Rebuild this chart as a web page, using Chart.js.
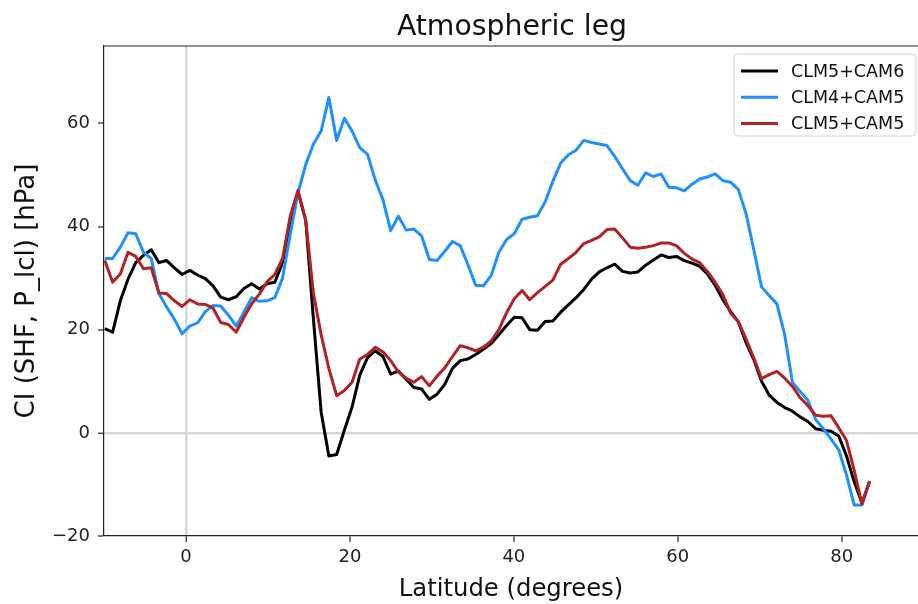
<!DOCTYPE html>
<html>
<head>
<meta charset="utf-8">
<script src="https://cdn.jsdelivr.net/npm/chart.js@4.4.0/dist/chart.umd.min.js"></script>
<style>
  html, body { margin: 0; padding: 0; background: #fff; }
</style>
</head>
<body>
<canvas id="atmLeg" width="918" height="604"></canvas>
<script>
// model grid latitudes (degrees)
const lats = [
  -9.9, -8.95, -8.01, -7.07, -6.13, -5.18, -4.24, -3.3, -2.36, -1.41,
  -0.47, 0.47, 1.41, 2.36, 3.3, 4.24, 5.18, 6.13, 7.07, 8.01,
  8.95, 9.9, 10.84, 11.78, 12.72, 13.66, 14.61, 15.55, 16.49, 17.43,
  18.38, 19.32, 20.26, 21.2, 22.15, 23.09, 24.03, 24.97, 25.92, 26.86,
  27.8, 28.74, 29.69, 30.63, 31.57, 32.51, 33.46, 34.4, 35.34, 36.28,
  37.23, 38.17, 39.11, 40.05, 41.0, 41.94, 42.88, 43.82, 44.76, 45.71,
  46.65, 47.59, 48.53, 49.48, 50.42, 51.36, 52.3, 53.25, 54.19, 55.13,
  56.07, 57.02, 57.96, 58.9, 59.84, 60.79, 61.73, 62.67, 63.61, 64.55,
  65.5, 66.44, 67.38, 68.32, 69.27, 70.21, 71.15, 72.09, 73.04, 73.98,
  74.92, 75.86, 76.81, 77.75, 78.69, 79.63, 80.58, 81.52, 82.46, 83.4
];

const clm5cam6 = [
  20.2, 19.5, 25.6, 29.8, 33, 34.4, 35.5, 33, 33.4, 32,
  30.7, 31.5, 30.6, 29.9, 28.5, 26.3, 25.8, 26.4, 28, 28.9,
  27.9, 28.9, 29.2, 33, 41, 46.7, 41.2, 22, 4, -4.5,
  -4.2, 0.5, 5, 11.2, 14.6, 15.9, 14.8, 11.4, 12, 10.4,
  8.8, 8.5, 6.5, 7.5, 9.4, 12.5, 14, 14.3, 15.2, 16.2,
  17.3, 19, 20.8, 22.4, 22.3, 20, 19.9, 21.6, 21.7, 23.4,
  24.8, 26.2, 27.8, 29.8, 31.2, 32, 32.7, 31.3, 31, 31.2,
  32.5, 33.5, 34.5, 34, 34.2, 33.4, 32.9, 32.3, 30.8, 28.6,
  25.8, 23.5, 21.5, 17.5, 14.2, 10, 7.3, 5.9, 4.9, 4.2,
  3.1, 2.2, 0.8, 0.5, 0.3, -0.6, -4.5, -9.5, -13.6, -9.4
];

const clm4cam5 = [
  33.8, 33.8, 36, 38.8, 38.6, 35, 33.8, 27, 24.4, 22,
  19.2, 20.7, 21.3, 23.5, 24.7, 24.6, 22.8, 20.7, 23.4, 26.2,
  25.5, 25.6, 26.2, 30, 38.5, 46.5, 52, 56, 58.5, 65,
  56.7, 61, 58.5, 55.3, 54, 49, 45.2, 39.2, 42, 39.3,
  39.5, 38.2, 33.6, 33.4, 35.2, 37.1, 36.3, 32.6, 28.6, 28.5,
  30.5, 35, 37.5, 38.6, 41.4, 41.8, 42.1, 44.8, 48.8, 52.3,
  53.9, 54.8, 56.7, 56.3, 56, 55.7, 53.6, 51.2, 48.9, 48,
  50.4, 49.7, 50.2, 47.6, 47.5, 46.9, 48.2, 49.2, 49.6, 50.2,
  48.9, 48.6, 47.2, 42.5, 35.5, 28.3, 26.6, 25, 19, 9.8,
  8, 6.3, 2.6, 0.8, -1.2, -3.3, -8.2, -14, -14, -9.4
];

const clm5cam5 = [
  33.4, 29.2, 30.8, 35, 34.2, 31.8, 32, 27.1, 27, 25.6,
  24.5, 25.8, 25, 24.9, 24.2, 21.4, 21, 19.5, 22.4, 25,
  26.9, 29.3, 30.7, 33.8, 42, 47, 41.2, 27, 19, 12.5,
  7.2, 8.2, 9.8, 14.3, 15.2, 16.6, 15.7, 14, 11.8, 10.6,
  9.8, 10.9, 9.1, 11, 12.6, 14.8, 16.9, 16.5, 15.9, 16.6,
  17.8, 20, 23.3, 26, 27.6, 25.8, 27.2, 28.4, 29.6, 32.7,
  33.8, 35, 36.7, 37.3, 38, 39.4, 39.5, 37.8, 36, 35.8,
  36, 36.3, 36.8, 36.8, 36.3, 34.8, 33.7, 33, 31.3, 29.2,
  26.8, 23.2, 21.6, 18.2, 14.5, 10.5, 11.3, 11.9, 10.6, 9,
  6.8, 5.3, 3.4, 3.2, 3.3, 1, -1.5, -7.3, -13.8, -9.4
];

const seriesNames = ["CLM5+CAM6", "CLM4+CAM5", "CLM5+CAM5"];
const seriesColors = ["#000000", "#1e90ff", "#b22222"];
const xTicks = [0, 20, 40, 60, 80];
const yTicks = [-20, 0, 20, 40, 60];

const FAMILY = "'DejaVu Sans', sans-serif";
const fmt = v => (v < 0 ? "\u2212" + Math.abs(v) : String(v));

function toPoints(vals) {
  return lats.map((lat, i) => ({ x: lat, y: vals[i] }));
}

// title, top spine and a matplotlib-style legend box
const extras = {
  id: "extras",
  afterDraw(chart) {
    const { ctx, chartArea: a } = chart;
    ctx.save();
    ctx.strokeStyle = "#222";
    ctx.lineWidth = 1.2;
    ctx.beginPath();
    ctx.moveTo(a.left, a.top);
    ctx.lineTo(a.right, a.top);
    ctx.stroke();

    ctx.fillStyle = "#111";
    ctx.font = "28.3px " + FAMILY;
    ctx.textAlign = "center";
    ctx.textBaseline = "alphabetic";
    ctx.fillText("Atmospheric leg", 512, 35);

    // legend
    const bx = 734, by = 54, bw = 182, bh = 82;
    ctx.beginPath();
    ctx.roundRect(bx, by, bw, bh, 4);
    ctx.fillStyle = "rgba(255,255,255,0.85)";
    ctx.fill();
    ctx.strokeStyle = "#d0d0d0";
    ctx.lineWidth = 1;
    ctx.stroke();

    ctx.font = "17.5px " + FAMILY;
    ctx.textAlign = "left";
    ctx.textBaseline = "middle";
    chart.data.datasets.forEach((ds, i) => {
      const y = 71 + i * 26.2;
      ctx.strokeStyle = ds.borderColor;
      ctx.lineWidth = 3;
      ctx.beginPath();
      ctx.moveTo(741, y);
      ctx.lineTo(778, y);
      ctx.stroke();
      ctx.fillStyle = "#111";
      ctx.fillText(ds.label, 791, y + 1);
    });
    ctx.restore();
  }
};

new Chart(document.getElementById("atmLeg"), {
  type: "line",
  data: {
    datasets: seriesNames.map((name, i) => ({
      label: name,
      data: toPoints([clm5cam6, clm4cam5, clm5cam5][i]),
      borderColor: seriesColors[i],
      backgroundColor: seriesColors[i],
      borderWidth: 3,
      borderJoinStyle: "round",
      pointRadius: 0,
      tension: 0,
      fill: false,
      order: 3 - i
    }))
  },
  options: {
    responsive: false,
    animation: false,
    devicePixelRatio: 1,
    layout: { padding: { top: 46, right: 0, bottom: 0, left: 0 } },
    plugins: {
      legend: { display: false },
      tooltip: { enabled: false },
      title: { display: false }
    },
    scales: {
      x: {
        type: "linear",
        min: -10,
        max: 89.3,
        afterBuildTicks: s => { s.ticks = xTicks.map(v => ({ value: v })); },
        afterFit: s => { s.height = 68; },
        border: { color: "#222", width: 1.2 },
        grid: {
          drawOnChartArea: true,
          color: c => (c.tick && c.tick.value === 0 ? "#d6d6d6" : "rgba(0,0,0,0)"),
          lineWidth: c => (c.tick && c.tick.value === 0 ? 2.5 : 0),
          tickColor: "#222",
          tickWidth: 1.2,
          tickLength: 6
        },
        ticks: {
          color: "#222",
          font: { family: FAMILY, size: 18 },
          padding: 5,
          maxRotation: 0,
          autoSkip: false,
          callback: v => fmt(v)
        },
        title: {
          display: true,
          text: "Latitude (degrees)",
          color: "#111",
          font: { family: FAMILY, size: 24.3 },
          padding: { top: 0, bottom: 0 }
        }
      },
      y: {
        type: "linear",
        min: -20,
        max: 75,
        afterBuildTicks: s => { s.ticks = yTicks.map(v => ({ value: v })); },
        afterFit: s => { s.width = 104; },
        border: { color: "#222", width: 1.2 },
        grid: {
          drawOnChartArea: true,
          color: c => (c.tick && c.tick.value === 0 ? "#d6d6d6" : "rgba(0,0,0,0)"),
          lineWidth: c => (c.tick && c.tick.value === 0 ? 2.5 : 0),
          tickColor: "#222",
          tickWidth: 1.2,
          tickLength: 6
        },
        ticks: {
          color: "#222",
          font: { family: FAMILY, size: 18 },
          padding: 8,
          autoSkip: false,
          callback: v => fmt(v)
        },
        title: {
          display: true,
          text: "CI (SHF, P_lcl) [hPa]",
          color: "#111",
          font: { family: FAMILY, size: 26 },
          padding: { top: 12, bottom: 0 }
        }
      }
    }
  },
  plugins: [extras]
});
</script>
</body>
</html>
